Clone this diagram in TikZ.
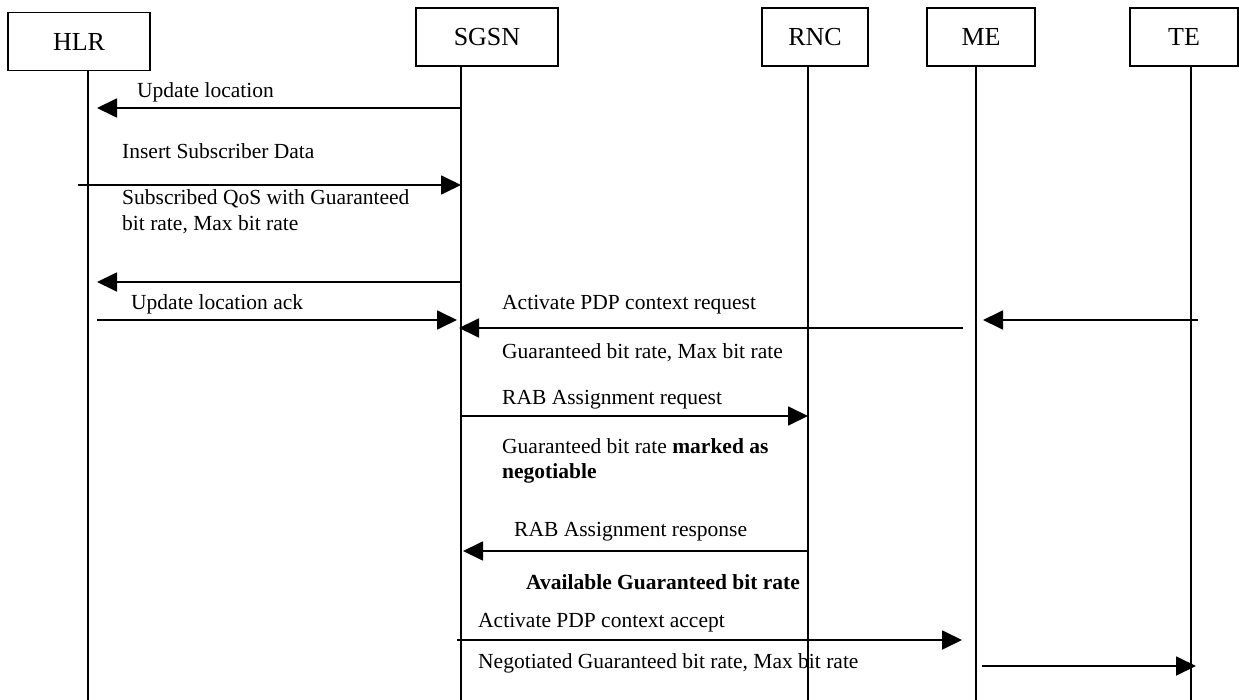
\documentclass[tikz,border=0pt]{standalone}
\usepackage{fontspec}
\setmainfont{Liberation Serif}
\usetikzlibrary{arrows.meta}

\begin{document}
\begin{tikzpicture}[x=1pt,y=-1pt,
    entity/.style={draw, line width=1.5pt, minimum height=58pt, inner sep=0pt, font=\fontsize{26}{30}\selectfont},
    life/.style={line width=1.5pt},
    msg/.style={line width=1.8pt, -{Triangle[length=20pt,width=19pt]}},
    lbl/.style={anchor=west, inner sep=0pt, align=left, font=\fontsize{21.5}{25.5}\selectfont}]
    \useasboundingbox (0,0) rectangle (1239,700);

    % entities
    \node[entity, minimum width=142pt] (hlr) at (79,41.5) {HLR};
    \node[entity, minimum width=142pt] (sgsn) at (487,37) {SGSN};
    \node[entity, minimum width=106pt] (rnc) at (815,37) {RNC};
    \node[entity, minimum width=108pt] (me) at (981,37) {ME};
    \node[entity, minimum width=108pt] (te) at (1184,37) {TE};

    % lifelines
    \coordinate (hlrL) at (88,700);
    \coordinate (sgsnL) at (461,700);
    \coordinate (rncL) at (808,700);
    \coordinate (meL) at (976,700);
    \coordinate (teL) at (1191,700);
    \foreach \e in {hlr,sgsn,rnc,me,te}
        \draw[life] (\e L |- \e.south) -- (\e L);

    % message rows
    \coordinate (m1) at (0,108);
    \coordinate (m2) at (0,185);
    \coordinate (m3) at (0,282);
    \coordinate (m4) at (0,320);
    \coordinate (m5) at (0,328);
    \coordinate (m6) at (0,320);
    \coordinate (m7) at (0,416);
    \coordinate (m8) at (0,551);
    \coordinate (m9) at (0,640);
    \coordinate (m10) at (0,666);

    \draw[msg] (sgsnL |- m1) -- ([xshift=9pt]hlrL |- m1);
    \draw[msg] ([xshift=-10pt]hlrL |- m2) -- (sgsnL |- m2);
    \draw[msg] (sgsnL |- m3) -- ([xshift=9pt]hlrL |- m3);
    \draw[msg] ([xshift=9pt]hlrL |- m4) -- ([xshift=-4pt]sgsnL |- m4);
    \draw[msg] ([xshift=-13pt]meL |- m5) -- ([xshift=-2pt]sgsnL |- m5);
    \draw[msg] ([xshift=7pt]teL |- m6) -- ([xshift=7pt]meL |- m6);
    \draw[msg] (sgsnL |- m7) -- (rncL |- m7);
    \draw[msg] (rncL |- m8) -- ([xshift=2pt]sgsnL |- m8);
    \draw[msg] ([xshift=-4pt]sgsnL |- m9) -- ([xshift=-14pt]meL |- m9);
    \draw[msg] ([xshift=6pt]meL |- m10) -- ([xshift=5pt]teL |- m10);

    % labels
    \node[lbl] (t1) at (137,92) {Update location};
    \node[lbl] (t2) at (122,151) {Insert Subscriber Data};
    \node[lbl] (t3) at (122,211.5) {Subscribed QoS with Guaranteed\\bit rate, Max bit rate};
    \node[lbl] (t4) at (131,304) {Update location ack};
    \node[lbl] (t5) at (502,305) {Activate PDP context request};
    \node[lbl] (t6) at (502,353) {Guaranteed bit rate, Max bit rate};
    \node[lbl] (t7) at (502,400) {RAB Assignment request};
    \node[lbl] (t8) at (502,461) {Guaranteed bit rate \textbf{marked as}\\\textbf{negotiable}};
    \node[lbl] (t9) at (514,532) {RAB Assignment response};
    \node[lbl] (t10) at (526,582) {\textbf{Available Guaranteed bit rate}};
    \node[lbl] (t11) at (478,623) {Activate PDP context accept};
    \node[lbl] (t12) at (478,663) {Negotiated Guaranteed bit rate, Max bit rate};
\end{tikzpicture}
\end{document}
